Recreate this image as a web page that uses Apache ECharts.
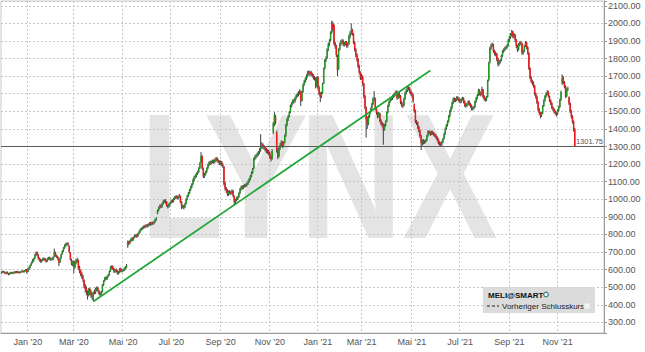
<!DOCTYPE html>
<html><head><meta charset="utf-8">
<script src="https://cdn.jsdelivr.net/npm/echarts@6/dist/echarts.min.js"></script>
<style>html,body{margin:0;padding:0;background:#fff}#c{width:645px;height:352px}</style>
</head><body><div id="c"></div>
<script>
// trading calendar
const firstDay = '2019-11-27';
const totalSlots = 526;
const holidays = ['2019-11-28','2019-12-25','2020-01-01','2020-01-20','2020-02-17','2020-04-10','2020-05-25','2020-07-03','2020-09-07','2020-11-26','2020-12-25','2021-01-01','2021-01-18','2021-02-15','2021-04-02','2021-05-31','2021-07-05','2021-09-06','2021-11-25','2021-12-24'];
const xTickLabels = [['2020-01',"Jan '20"],['2020-03',"Mär '20"],['2020-05',"Mai '20"],['2020-07',"Jul '20"],['2020-09',"Sep '20"],['2020-11',"Nov '20"],['2021-01',"Jan '21"],['2021-03',"Mär '21"],['2021-05',"Mai '21"],['2021-07',"Jul '21"],['2021-09',"Sep '21"],['2021-11',"Nov '21"]];
// daily candles: [open, close, low, high]
const ohlc = [
[580,585,576,590],[586,590,582,594],[591,583,580,594],[584,580,574,588],[579,586,575,589],[587,578,574,590],[578,575,568,582],[574,580,570,584],[580,583,576,588],[584,579,575,587],
[578,585,574,589],[586,582,578,590],[581,588,578,592],[589,584,580,593],[583,587,579,591],[588,583,578,592],[582,586,578,590],[585,590,581,594],[590,592,585,597],[593,588,583,596],
[587,594,584,598],[594,598,590,603],[600,585,578,603],[588,605,585,610],[604,612,600,618],[613,625,608,630],[626,640,622,646],[641,652,636,660],[650,662,645,668],[664,680,660,688],
[682,695,676,702],[697,688,680,704],[686,665,658,690],[664,655,646,670],[656,648,640,662],[646,655,640,660],[654,662,650,668],[664,660,652,670],[661,652,646,666],[653,648,640,658],
[649,664,645,668],[662,668,656,673],[669,660,654,674],[658,662,650,667],[664,658,652,668],[657,670,654,675],[672,698,668,720],[697,680,674,702],[682,672,666,686],[673,660,654,678],
[658,640,620,662],[642,665,638,670],[666,688,662,692],[690,705,685,710],[706,722,700,728],[724,738,718,744],[736,745,730,752],[744,748,738,756],[750,740,734,755],[735,700,694,738],
[698,660,652,700],[655,632,625,662],[630,645,620,650],[650,615,580,652],[612,640,605,648],[638,655,630,662],[650,660,640,668],[655,610,600,658],[615,590,580,622],[595,575,562,600],
[578,560,548,585],[562,545,530,570],[540,505,495,545],[510,490,470,518],[495,478,455,505],[470,452,430,482],[455,488,448,495],[490,470,455,498],[472,458,440,485],[462,445,428,470],
[440,470,420,475],[476,472,460,488],[470,490,462,498],[488,495,478,505],[498,482,472,502],[478,462,455,485],[460,468,450,475],[466,470,455,480],[475,512,470,518],[515,535,508,540],
[538,552,532,558],[555,548,540,562],[546,560,542,566],[562,568,555,575],[570,590,565,596],[594,612,588,620],[610,618,602,625],[620,603,598,624],[605,590,582,610],[588,598,582,604],
[600,592,585,606],[594,580,572,598],[578,585,572,592],[584,605,580,610],[606,592,586,612],[590,596,584,602],[594,598,588,605],[596,606,592,612],[604,615,600,620],[612,625,608,632],
[730,758,725,765],[758,748,740,764],[750,765,745,770],[764,775,758,782],[778,770,762,784],[770,782,765,788],[784,790,778,798],[790,795,784,802],[798,788,780,804],[790,805,786,810],
[806,815,800,822],[815,828,810,834],[830,832,822,840],[834,838,826,845],[840,845,832,852],[848,842,835,855],[844,852,838,858],[855,848,840,860],[848,856,842,862],[858,862,850,870],
[865,858,850,870],[858,866,852,872],[868,862,855,874],[862,872,858,878],[872,885,868,890],[885,892,878,898],[920,935,915,942],[936,950,930,958],[952,962,945,970],[965,958,950,972],
[958,975,952,980],[976,988,970,995],[990,992,980,1000],[994,985,975,1000],[985,965,958,990],[966,958,948,970],[958,972,952,978],[974,980,965,986],[980,992,975,998],[994,988,980,1000],
[988,1002,982,1008],[1004,1010,996,1018],[1010,1015,1002,1022],[1018,1008,1000,1024],[1008,1012,1000,1020],[1014,1020,1006,1030],[1018,985,978,1022],[985,955,945,990],[955,962,948,970],[964,955,942,968],
[956,975,950,980],[976,1000,970,1005],[1000,1020,995,1026],[1020,1035,1014,1042],[1036,1055,1030,1060],[1056,1070,1048,1078],[1072,1085,1064,1092],[1088,1110,1082,1118],[1110,1126,1102,1134],[1128,1132,1118,1142],
[1134,1145,1125,1152],[1146,1155,1138,1162],[1156,1175,1150,1182],[1178,1205,1172,1212],[1210,1245,1205,1268],[1245,1175,1168,1250],[1172,1130,1120,1180],[1132,1140,1122,1150],[1142,1155,1135,1162],[1156,1175,1150,1182],
[1178,1195,1170,1202],[1196,1210,1188,1216],[1212,1205,1196,1220],[1204,1212,1198,1220],[1214,1218,1205,1226],[1220,1212,1202,1226],[1212,1225,1205,1232],[1226,1232,1215,1240],[1234,1220,1210,1240],[1222,1215,1205,1228],
[1216,1205,1195,1222],[1205,1212,1196,1220],[1214,1198,1188,1218],[1198,1190,1178,1205],[1185,1088,1078,1190],[1090,1060,1050,1098],[1062,1048,1036,1070],[1050,1030,1020,1058],[1030,1042,1018,1050],[1044,1040,1028,1052],
[1040,1035,1024,1048],[1036,1048,1028,1056],[1048,1020,1012,1052],[1018,985,962,1022],[986,995,975,1002],[996,1005,988,1012],[1004,1013,996,1020],[1014,1035,1008,1040],[1036,1058,1030,1064],[1058,1070,1050,1078],
[1072,1065,1056,1080],[1064,1075,1058,1082],[1076,1078,1066,1086],[1080,1082,1070,1090],[1082,1088,1072,1095],[1090,1100,1082,1108],[1100,1115,1094,1122],[1116,1130,1108,1138],[1130,1150,1125,1158],[1150,1170,1144,1178],
[1175,1230,1170,1238],[1232,1240,1222,1250],[1242,1248,1232,1258],[1250,1257,1240,1266],[1258,1265,1248,1275],[1266,1280,1256,1290],[1282,1300,1270,1370],[1305,1310,1290,1325],[1312,1298,1285,1318],[1300,1292,1280,1308],
[1294,1285,1272,1300],[1286,1275,1262,1292],[1278,1270,1258,1285],[1272,1262,1250,1280],[1264,1240,1230,1270],[1242,1228,1215,1250],[1232,1275,1225,1285],[1380,1430,1370,1440],[1425,1480,1415,1495],[1470,1435,1425,1480],
[1380,1280,1265,1390],[1282,1240,1228,1290],[1245,1290,1238,1298],[1292,1310,1282,1320],[1312,1325,1300,1335],[1326,1300,1292,1332],[1302,1320,1295,1328],[1322,1360,1318,1368],[1362,1420,1355,1428],[1422,1455,1415,1462],
[1456,1470,1445,1478],[1472,1495,1465,1502],[1496,1530,1490,1538],[1532,1545,1522,1552],[1546,1560,1538,1568],[1562,1557,1545,1570],[1558,1575,1550,1582],[1576,1590,1568,1598],[1592,1597,1580,1606],[1598,1605,1585,1615],
[1606,1615,1595,1625],[1612,1560,1530,1618],[1562,1610,1555,1618],[1612,1650,1605,1658],[1652,1670,1645,1678],[1672,1685,1662,1694],[1686,1700,1676,1710],[1702,1720,1692,1730],[1722,1715,1705,1732],[1716,1722,1702,1730],
[1724,1712,1700,1730],[1714,1705,1692,1720],[1706,1692,1680,1712],[1694,1688,1675,1700],[1690,1640,1630,1695],[1642,1690,1636,1698],[1692,1635,1625,1700],[1636,1600,1590,1645],[1602,1582,1552,1610],[1584,1600,1575,1612],
[1602,1655,1598,1662],[1660,1740,1655,1748],[1745,1790,1738,1798],[1792,1800,1780,1812],[1805,1850,1798,1858],[1852,1880,1842,1890],[1882,1900,1870,1910],[1905,1945,1898,1955],[1950,2000,1940,2015],[1998,1965,1955,2010],
[1990,1885,1875,1995],[1888,1870,1855,1895],[1872,1820,1808,1878],[1815,1735,1700,1822],[1740,1850,1735,1858],[1852,1880,1845,1890],[1882,1895,1872,1905],[1898,1902,1885,1912],[1900,1880,1870,1908],[1882,1885,1868,1895],
[1886,1890,1875,1900],[1895,1872,1862,1900],[1874,1880,1862,1890],[1882,1925,1878,1935],[1926,1945,1915,1955],[1948,1960,1935,2000],[1962,1940,1930,1970],[1940,1890,1882,1945],[1892,1850,1840,1900],[1852,1820,1808,1860],
[1822,1795,1782,1830],[1798,1755,1745,1802],[1758,1720,1710,1765],[1722,1690,1678,1728],[1692,1700,1680,1712],[1698,1655,1645,1705],[1658,1585,1575,1662],[1588,1520,1510,1592],[1522,1455,1350,1528],[1458,1425,1400,1470],
[1428,1470,1420,1478],[1472,1495,1462,1502],[1496,1515,1488,1522],[1518,1540,1510,1548],[1542,1570,1535,1580],[1572,1575,1560,1615],[1572,1515,1505,1578],[1516,1490,1480,1522],[1492,1470,1460,1498],[1472,1490,1465,1496],
[1488,1445,1438,1492],[1446,1430,1420,1455],[1432,1425,1410,1440],[1428,1395,1310,1432],[1398,1420,1390,1428],[1422,1440,1412,1448],[1442,1490,1438,1498],[1492,1530,1488,1538],[1532,1555,1525,1562],[1556,1570,1548,1578],
[1572,1575,1560,1585],[1576,1585,1565,1594],[1588,1590,1575,1600],[1592,1598,1582,1608],[1600,1610,1590,1620],[1612,1575,1565,1618],[1576,1600,1570,1608],[1602,1585,1575,1610],[1586,1550,1540,1592],[1552,1535,1525,1560],
[1536,1530,1518,1545],[1532,1570,1528,1578],[1572,1605,1565,1612],[1606,1618,1596,1626],[1620,1635,1610,1645],[1636,1630,1618,1642],[1632,1612,1602,1638],[1614,1600,1590,1620],[1602,1590,1580,1610],[1592,1558,1548,1598],
[1540,1500,1492,1545],[1505,1440,1432,1510],[1442,1435,1422,1450],[1436,1410,1400,1442],[1412,1390,1380,1418],[1392,1360,1350,1396],[1362,1318,1280,1366],[1320,1332,1305,1340],[1334,1322,1312,1342],[1324,1328,1315,1336],
[1330,1335,1320,1342],[1336,1360,1330,1368],[1362,1385,1356,1392],[1386,1378,1370,1392],[1380,1370,1360,1386],[1372,1382,1365,1390],[1384,1375,1366,1390],[1376,1368,1358,1382],[1370,1360,1352,1376],[1362,1350,1342,1368],
[1352,1340,1330,1358],[1342,1322,1312,1346],[1324,1315,1305,1330],[1318,1310,1298,1324],[1312,1325,1305,1332],[1326,1342,1320,1348],[1344,1370,1340,1378],[1372,1400,1365,1408],[1402,1420,1395,1428],[1422,1440,1414,1448],
[1442,1470,1436,1478],[1472,1500,1465,1508],[1502,1520,1494,1528],[1522,1548,1515,1556],[1550,1570,1542,1578],[1572,1562,1552,1580],[1562,1565,1552,1574],[1566,1578,1558,1586],[1580,1568,1560,1586],[1570,1560,1550,1578],
[1562,1555,1545,1570],[1556,1568,1548,1575],[1570,1572,1560,1582],[1574,1555,1545,1580],[1556,1535,1525,1562],[1536,1530,1520,1545],[1532,1542,1525,1550],[1544,1555,1536,1562],[1556,1540,1530,1562],[1542,1530,1520,1548],
[1532,1515,1505,1538],[1516,1518,1505,1526],[1520,1525,1510,1532],[1526,1555,1520,1562],[1556,1575,1548,1582],[1576,1592,1568,1600],[1594,1620,1588,1628],[1618,1600,1590,1625],[1602,1595,1585,1610],[1596,1625,1590,1640],
[1624,1582,1575,1628],[1584,1570,1560,1592],[1572,1565,1555,1578],[1566,1580,1558,1588],[1582,1670,1578,1680],[1680,1775,1670,1782],[1780,1860,1772,1868],[1862,1875,1850,1885],[1878,1880,1865,1890],[1880,1842,1832,1885],
[1844,1830,1818,1850],[1832,1825,1812,1840],[1826,1798,1785,1832],[1800,1768,1755,1805],[1770,1780,1760,1790],[1782,1788,1772,1796],[1790,1815,1784,1822],[1816,1840,1810,1848],[1842,1850,1832,1858],[1852,1858,1842,1866],
[1860,1865,1850,1874],[1866,1872,1856,1882],[1874,1905,1868,1912],[1906,1920,1896,1928],[1922,1935,1912,1945],[1936,1952,1926,1962],[1954,1925,1915,1958],[1926,1935,1915,1944],[1936,1905,1895,1940],[1906,1870,1860,1912],
[1872,1850,1838,1878],[1852,1880,1845,1888],[1882,1890,1872,1898],[1892,1885,1875,1900],[1886,1830,1822,1890],[1832,1840,1822,1848],[1842,1870,1836,1878],[1872,1890,1865,1900],[1892,1862,1852,1896],[1864,1830,1822,1870],
[1832,1742,1735,1836],[1745,1690,1682,1750],[1692,1670,1660,1700],[1672,1660,1648,1680],[1662,1645,1635,1670],[1646,1598,1590,1650],[1600,1582,1572,1608],[1584,1552,1542,1590],[1554,1512,1502,1558],[1514,1490,1480,1518],
[1492,1475,1460,1498],[1476,1488,1468,1495],[1490,1528,1485,1535],[1530,1560,1525,1568],[1562,1585,1555,1592],[1586,1600,1578,1608],[1602,1610,1592,1620],[1612,1585,1578,1616],[1586,1560,1552,1590],[1562,1545,1536,1568],
[1546,1520,1512,1552],[1522,1510,1500,1528],[1512,1498,1488,1518],[1500,1490,1480,1506],[1492,1482,1470,1498],[1484,1505,1478,1512],[1506,1525,1498,1532],[1526,1565,1520,1572],[1566,1610,1560,1618],[1660,1690,1650,1710],
[1692,1665,1655,1700],[1666,1640,1630,1672],[1642,1585,1575,1648],[1586,1622,1580,1630],[1624,1630,1615,1640],[1580,1545,1535,1585],[1546,1500,1490,1550],[1502,1470,1458,1508],[1472,1440,1430,1478],[1442,1395,1385,1448],
[1398,1301.75,1298,1405]
];
const lastClose = 1301.75;
const trendLine = [['2020-03-25', 419], ['2021-05-25', 1732]];
const yRange = [240, 2127];

function tradingDays(start, count, hol) {
  const out = []; const d = new Date(start + 'T00:00:00Z');
  while (out.length < count) {
    const wd = d.getUTCDay(); const s = d.toISOString().slice(0, 10);
    if (wd !== 0 && wd !== 6 && hol.indexOf(s) < 0) out.push(s);
    d.setUTCDate(d.getUTCDate() + 1);
  }
  return out;
}
const dates = tradingDays(firstDay, totalSlots, holidays);
const tickIdx = {};
xTickLabels.forEach(([m, lab]) => { const i = dates.findIndex(d => d.startsWith(m)); if (i >= 0) tickIdx[i] = lab; });
const isTick = (i) => tickIdx[i] !== undefined;

const candleData = ohlc.map((r, i) => [i, r[0], r[1], r[2], r[3]]);

const chart = echarts.init(document.getElementById('c'), null, {renderer: 'svg', width: 645, height: 352});
const FONT = '"Liberation Sans", Arial, sans-serif';
chart.setOption({
  animation: false,
  backgroundColor: '#fff',
  grid: {left: 1, right: 41, top: 1, bottom: 19, show: true, borderColor: '#c8c8c8', borderWidth: 1},
  xAxis: {
    type: 'category', data: dates, boundaryGap: true,
    axisLine: {show: true, lineStyle: {color: '#9a9a9a', width: 1}},
    axisTick: {show: false},
    axisLabel: {interval: (i) => isTick(i), formatter: (v, i) => tickIdx[i] || '', color: '#555', fontSize: 9, fontFamily: FONT, margin: 4},
    splitLine: {show: true, interval: (i) => isTick(i), lineStyle: {color: '#c8c8c8', type: [2, 2], width: 1}}
  },
  yAxis: {
    type: 'value', position: 'right', min: yRange[0], max: yRange[1], splitNumber: 19, scale: true,
    axisLine: {show: true, lineStyle: {color: '#9a9a9a'}},
    axisTick: {show: true, length: 3, lineStyle: {color: '#9a9a9a'}},
    axisLabel: {color: '#555', fontSize: 9, fontFamily: FONT, margin: 4,
      formatter: (v) => (Math.abs(v % 100) < 1e-6 && v >= 300 && v <= 2100) ? v.toFixed(2) : ''},
    splitLine: {show: true, lineStyle: {color: '#c8c8c8', type: [2, 2], width: 1}}
  },
  graphic: [
    {type: 'text', x: 182, y: 176, scaleX: 0.76, z: -10, silent: true, style: {text: 'L', font: 'bold 178px "Liberation Sans"', fill: '#e4e4e4', textAlign: 'center', textVerticalAlign: 'middle'}},
    {type: 'text', x: 256, y: 176, scaleX: 0.88, z: -10, silent: true, style: {text: 'Y', font: 'bold 178px "Liberation Sans"', fill: '#e4e4e4', textAlign: 'center', textVerticalAlign: 'middle'}},
    {type: 'text', x: 351, y: 176, scaleX: 0.80, z: -10, silent: true, style: {text: 'N', font: 'bold 178px "Liberation Sans"', fill: '#e4e4e4', textAlign: 'center', textVerticalAlign: 'middle'}},
    {type: 'text', x: 450, y: 176, scaleX: 0.80, z: -10, silent: true, style: {text: 'X', font: 'bold 178px "Liberation Sans"', fill: '#e4e4e4', textAlign: 'center', textVerticalAlign: 'middle'}},
    {type: 'rect', z: 50, shape: {x: 483, y: 287, width: 112, height: 26}, style: {fill: 'rgba(215,215,215,0.9)'}},
    {type: 'text', z: 51, x: 488, y: 295, style: {text: 'MELI@SMART', font: 'bold 8px "Liberation Sans"', fill: '#111', textVerticalAlign: 'middle'}},
    {type: 'circle', z: 51, shape: {cx: 546, cy: 294.5, r: 2.3}, style: {fill: '#fff', stroke: '#2c7f86', lineWidth: 1.2}},
    {type: 'line', z: 51, shape: {x1: 487, y1: 306, x2: 499, y2: 306}, style: {stroke: '#222', lineWidth: 1.2, lineDash: [3, 2]}},
    {type: 'text', z: 51, x: 502, y: 306, style: {text: 'Vorheriger Schlusskurs', font: '8px "Liberation Sans"', fill: '#222', textVerticalAlign: 'middle'}},
    {type: 'rect', z: 51, shape: {x: 584, y: 303, width: 6, height: 6}, style: {fill: '#f4f4f4', stroke: '#ddd'}}
  ],
  series: [
    {
      type: 'custom', name: 'MELI@SMART', data: candleData, clip: true, z: 2,
      encode: {x: 0, y: [1, 2, 3, 4]},
      renderItem: function (params, api) {
        const i = api.value(0);
        const o = api.coord([i, api.value(1)]), c = api.coord([i, api.value(2)]);
        const l = api.coord([i, api.value(3)]), h = api.coord([i, api.value(4)]);
        const up = api.value(2) >= api.value(1);
        const w = 1.5;
        const top = Math.min(o[1], c[1]), ht = Math.max(1, Math.abs(o[1] - c[1]));
        return {type: 'group', children: [
          {type: 'line', shape: {x1: h[0], y1: h[1], x2: l[0], y2: l[1]}, style: {stroke: '#3c3c3c', lineWidth: 1}},
          {type: 'rect', shape: {x: o[0] - w / 2, y: top, width: w, height: ht}, style: {fill: up ? '#1c9e1c' : '#f21818'}}
        ]};
      },
      markLine: {
        silent: true, symbol: ['none', 'none'], animation: false,
        lineStyle: {color: '#5a5a5a', width: 1.2, type: 'solid'},
        label: {show: true, position: 'insideEndTop', formatter: String(lastClose), color: '#555', fontSize: 7.5, fontFamily: FONT, distance: 1},
        data: [{yAxis: lastClose}]
      }
    },
    {
      type: 'line', data: trendLine, showSymbol: false, symbol: 'none', z: 5,
      lineStyle: {color: '#22a83a', width: 1.8}
    }
  ]
});
</script></body></html>
